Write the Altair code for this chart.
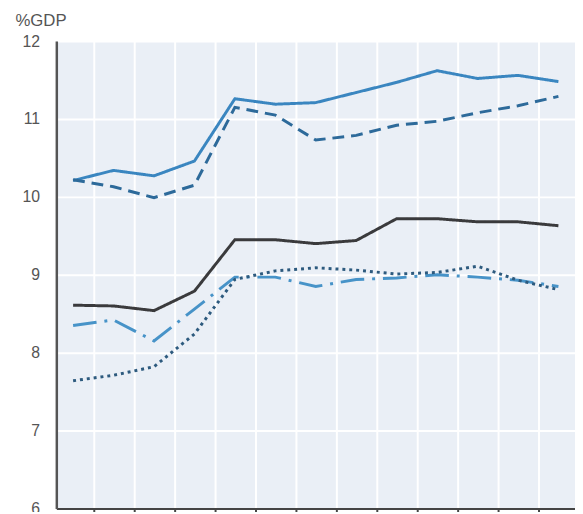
import altair as alt
import pandas as pd

years = list(range(2005, 2018))
series_names = ["Solid blue", "Dashed blue", "Solid dark", "Dash-dot", "Dotted"]
solid_blue = [10.21, 10.34, 10.27, 10.46, 11.26, 11.19, 11.21, 11.34, 11.47, 11.62, 11.52, 11.56, 11.48]
dashed_blue = [10.22, 10.13, 9.99, 10.15, 11.15, 11.05, 10.73, 10.79, 10.92, 10.97, 11.08, 11.17, 11.29]
solid_dark = [8.61, 8.60, 8.54, 8.79, 9.45, 9.45, 9.40, 9.44, 9.72, 9.72, 9.68, 9.68, 9.63]
dash_dot = [8.35, 8.42, 8.15, 8.56, 8.97, 8.97, 8.85, 8.94, 8.96, 9.00, 8.97, 8.93, 8.85]
dotted = [7.64, 7.71, 7.82, 8.24, 8.94, 9.05, 9.09, 9.06, 9.01, 9.03, 9.11, 8.93, 8.81]

colors = ["#3a86c0", "#2d6a9a", "#3a3a3c", "#4793c8", "#2d5a7e"]
dashes = [[1, 0], [12, 7], [1, 0], [24, 8, 3, 8], [3, 4]]

values = [solid_blue, dashed_blue, solid_dark, dash_dot, dotted]
rows = []
for name, vals in zip(series_names, values):
    for y, v in zip(years, vals):
        rows.append({"year": y, "value": v, "series": name})
df = pd.DataFrame(rows)

boundaries = [y + 0.5 for y in years[:-1]]

chart = alt.Chart(df).mark_line(strokeWidth=3).encode(
    x=alt.X("year:Q",
            scale=alt.Scale(domain=[2004.585, 2017.41], nice=False, zero=False),
            axis=alt.Axis(values=boundaries, labels=False, title=None, grid=True,
                          gridColor="white", gridWidth=2, tickColor="#444",
                          tickSize=5, tickWidth=2, domainColor="#444", domainWidth=2)),
    y=alt.Y("value:Q",
            scale=alt.Scale(domain=[6, 12], nice=False, zero=False),
            axis=alt.Axis(values=[6, 7, 8, 9, 10, 11, 12], title="%GDP", titleAngle=0,
                          titleAlign="left", titleBaseline="alphabetic", titleX=-42, titleY=-16,
                          titleFontSize=17, titleFont="Liberation Sans", titleFontWeight="normal",
                          titleColor="#555",
                          labelFontSize=16, labelFont="Liberation Sans", labelColor="#555",
                          labelPadding=17, ticks=False, grid=True, gridColor="white", gridWidth=2,
                          domainColor="#555", domainWidth=2.5)),
    color=alt.Color("series:N", scale=alt.Scale(domain=series_names, range=colors), legend=None),
    strokeDash=alt.StrokeDash("series:N", scale=alt.Scale(domain=series_names, range=dashes), legend=None),
    order=alt.Order("year:Q"),
).properties(
    width=526, height=474,
    background="white",
    autosize=alt.AutoSizeParams(type="none"),
    padding={"left": 49, "top": 30, "right": 0, "bottom": 0},
).configure_view(
    fill="#eaeff6", stroke=None
)

chart.save("out.html", embed_options={"renderer": "svg", "actions": False})
